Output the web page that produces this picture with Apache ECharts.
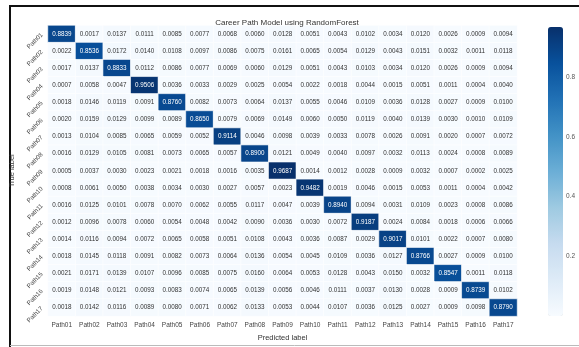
<!DOCTYPE html>
<html>
<head>
<meta charset="utf-8">
<script src="https://cdn.jsdelivr.net/npm/echarts@6/dist/echarts.min.js"></script>
<style>
  html, body { margin: 0; padding: 0; background: #ffffff; }
  #chart { width: 579px; height: 347px; }
</style>
</head>
<body>
<div id="chart"></div>
<script>
// Class labels shared by both axes
const paths = ['Path01','Path02','Path03','Path04','Path05','Path06','Path07','Path08','Path09',
               'Path10','Path11','Path12','Path13','Path14','Path15','Path16','Path17'];

// Normalised confusion matrix, one row per true class
const row01 = [0.8839,0.0017,0.0137,0.0111,0.0085,0.0077,0.0068,0.0060,0.0128,0.0051,0.0043,0.0102,0.0034,0.0120,0.0026,0.0009,0.0094];
const row02 = [0.0022,0.8536,0.0172,0.0140,0.0108,0.0097,0.0086,0.0075,0.0161,0.0065,0.0054,0.0129,0.0043,0.0151,0.0032,0.0011,0.0118];
const row03 = [0.0017,0.0137,0.8833,0.0112,0.0086,0.0077,0.0069,0.0060,0.0129,0.0051,0.0043,0.0103,0.0034,0.0120,0.0026,0.0009,0.0094];
const row04 = [0.0007,0.0058,0.0047,0.9506,0.0036,0.0033,0.0029,0.0025,0.0054,0.0022,0.0018,0.0044,0.0015,0.0051,0.0011,0.0004,0.0040];
const row05 = [0.0018,0.0146,0.0119,0.0091,0.8760,0.0082,0.0073,0.0064,0.0137,0.0055,0.0046,0.0109,0.0036,0.0128,0.0027,0.0009,0.0100];
const row06 = [0.0020,0.0159,0.0129,0.0099,0.0089,0.8650,0.0079,0.0069,0.0149,0.0060,0.0050,0.0119,0.0040,0.0139,0.0030,0.0010,0.0109];
const row07 = [0.0013,0.0104,0.0085,0.0065,0.0059,0.0052,0.9114,0.0046,0.0098,0.0039,0.0033,0.0078,0.0026,0.0091,0.0020,0.0007,0.0072];
const row08 = [0.0016,0.0129,0.0105,0.0081,0.0073,0.0065,0.0057,0.8900,0.0121,0.0049,0.0040,0.0097,0.0032,0.0113,0.0024,0.0008,0.0089];
const row09 = [0.0005,0.0037,0.0030,0.0023,0.0021,0.0018,0.0016,0.0035,0.9687,0.0014,0.0012,0.0028,0.0009,0.0032,0.0007,0.0002,0.0025];
const row10 = [0.0008,0.0061,0.0050,0.0038,0.0034,0.0030,0.0027,0.0057,0.0023,0.9482,0.0019,0.0046,0.0015,0.0053,0.0011,0.0004,0.0042];
const row11 = [0.0016,0.0125,0.0101,0.0078,0.0070,0.0062,0.0055,0.0117,0.0047,0.0039,0.8940,0.0094,0.0031,0.0109,0.0023,0.0008,0.0086];
const row12 = [0.0012,0.0096,0.0078,0.0060,0.0054,0.0048,0.0042,0.0090,0.0036,0.0030,0.0072,0.9187,0.0024,0.0084,0.0018,0.0006,0.0066];
const row13 = [0.0014,0.0116,0.0094,0.0072,0.0065,0.0058,0.0051,0.0108,0.0043,0.0036,0.0087,0.0029,0.9017,0.0101,0.0022,0.0007,0.0080];
const row14 = [0.0018,0.0145,0.0118,0.0091,0.0082,0.0073,0.0064,0.0136,0.0054,0.0045,0.0109,0.0036,0.0127,0.8766,0.0027,0.0009,0.0100];
const row15 = [0.0021,0.0171,0.0139,0.0107,0.0096,0.0085,0.0075,0.0160,0.0064,0.0053,0.0128,0.0043,0.0150,0.0032,0.8547,0.0011,0.0118];
const row16 = [0.0019,0.0148,0.0121,0.0093,0.0083,0.0074,0.0065,0.0139,0.0056,0.0046,0.0111,0.0037,0.0130,0.0028,0.0009,0.8739,0.0102];
const row17 = [0.0018,0.0142,0.0116,0.0089,0.0080,0.0071,0.0062,0.0133,0.0053,0.0044,0.0107,0.0036,0.0125,0.0027,0.0009,0.0098,0.8790];
const rows = [row01,row02,row03,row04,row05,row06,row07,row08,row09,row10,row11,row12,row13,row14,row15,row16,row17];

// Colour bar tick labels
const barTicks = [0.2, 0.4, 0.6, 0.8];

const cells = [];
rows.forEach((r, yi) => r.forEach((v, xi) => cells.push([xi, yi, v])));
const all = rows.flat();
const vMin = Math.min(...all), vMax = Math.max(...all);

const FONT = 'Liberation Sans, Arial, sans-serif';
const blues = ['#f7fbff','#deebf7','#c6dbef','#9ecae1','#6baed6','#4292c6','#2171b5','#08519c','#08306b'];

const chart = echarts.init(document.getElementById('chart'), null, { renderer: 'canvas' });
chart.setOption({
  animation: false,
  backgroundColor: '#ffffff',
  textStyle: { fontFamily: FONT },
  title: {
    text: 'Career Path Model using RandomForest',
    left: 282, top: 14, textAlign: 'center',
    textStyle: { fontSize: 8, fontWeight: 'normal', color: '#333', fontFamily: FONT }
  },
  grid: [
    { left: 45, top: 25.5, width: 472, height: 291 },
    { left: 548, top: 27, width: 15, height: 289 }
  ],
  xAxis: [
    {
      type: 'category', data: paths, gridIndex: 0, position: 'bottom',
      axisLine: { show: false }, axisTick: { show: false }, splitLine: { show: false },
      axisLabel: { fontSize: 6.5, color: '#444', margin: 6, fontFamily: FONT },
      name: 'Predicted label', nameLocation: 'middle', nameGap: 17,
      nameTextStyle: { fontSize: 7.5, color: '#333', fontFamily: FONT }
    },
    { type: 'value', gridIndex: 1, show: false, min: 0, max: 1 }
  ],
  yAxis: [
    {
      type: 'category', data: paths, gridIndex: 0, inverse: true,
      axisLine: { show: false }, axisTick: { show: false }, splitLine: { show: false },
      axisLabel: { fontSize: 6.2, color: '#444', rotate: 45, margin: 6, fontFamily: FONT },
      name: 'True label', nameLocation: 'middle', nameGap: 25, nameRotate: 90,
      nameTextStyle: { fontSize: 7.5, color: '#333', fontFamily: FONT }
    },
    {
      type: 'value', gridIndex: 1, position: 'right', min: vMin, max: vMax,
      axisLine: { show: false }, splitLine: { show: false },
      axisTick: { show: true, length: 3, lineStyle: { color: '#555', width: 0.8 }, customValues: barTicks },
      axisLabel: { fontSize: 6.5, color: '#555', margin: 3, fontFamily: FONT, customValues: barTicks,
                   formatter: v => v.toFixed(1) }
    }
  ],
  visualMap: {
    type: 'continuous', seriesIndex: 0, dimension: 2,
    min: vMin, max: vMax, calculable: false, show: true,
    orient: 'vertical', left: 548, top: 27, itemWidth: 15, itemHeight: 289,
    padding: 0, text: null, showLabel: false,
    inRange: { color: blues },
    textStyle: { fontSize: 0 }
  },
  series: [{
    type: 'heatmap', xAxisIndex: 0, yAxisIndex: 0,
    data: cells.map(c => ({
      value: c,
      label: { color: c[2] > 0.5 ? '#ffffff' : '#333' }
    })),
    itemStyle: { borderColor: '#ffffff', borderWidth: 0.6 },
    label: {
      show: true, fontSize: 6.3, fontFamily: FONT,
      formatter: p => p.value[2].toFixed(4)
    }
  }],
  graphic: [
    { type: 'line', shape: { x1: 10, y1: 6, x2: 579, y2: 6 }, style: { stroke: '#111', lineWidth: 2 } },
    { type: 'line', shape: { x1: 10, y1: 5, x2: 10, y2: 347 }, style: { stroke: '#111', lineWidth: 2 } },
    { type: 'line', shape: { x1: 10, y1: 345.5, x2: 579, y2: 345.5 }, style: { stroke: '#bbb', lineWidth: 1 } }
  ]
});
</script>
</body>
</html>
